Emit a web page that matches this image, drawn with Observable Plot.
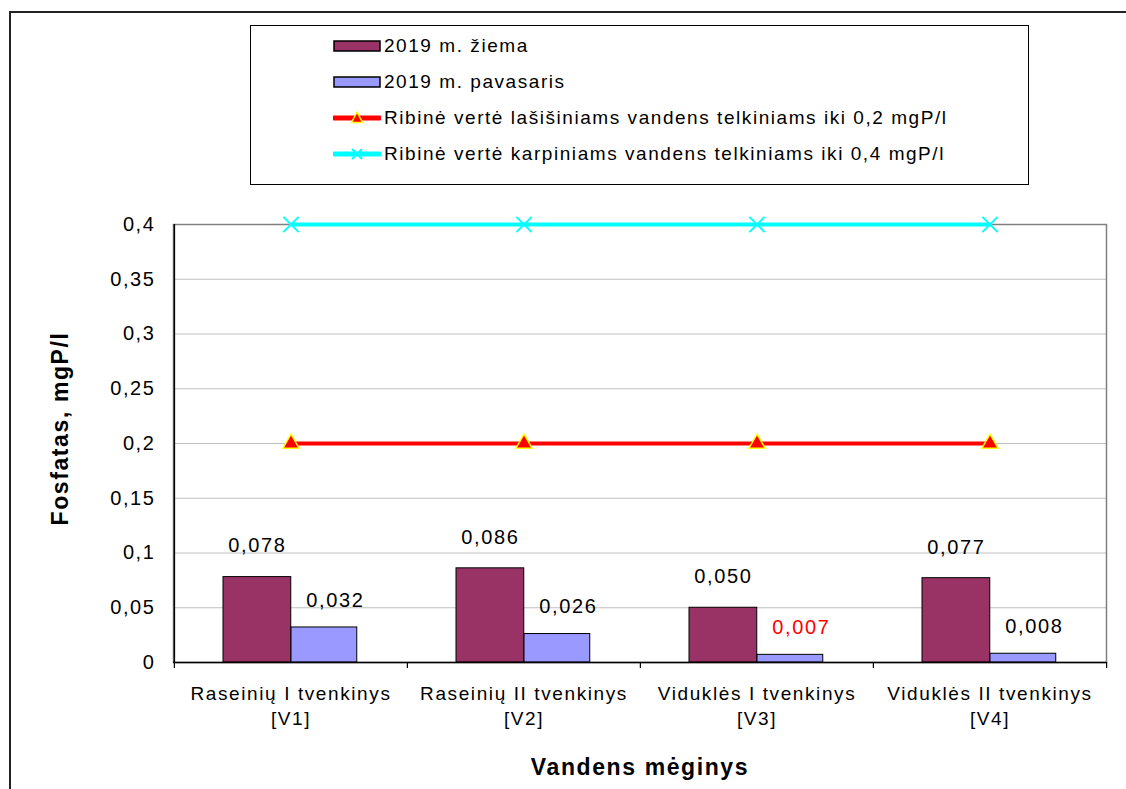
<!DOCTYPE html>
<html>
<head>
<meta charset="utf-8">
<script src="https://cdn.jsdelivr.net/npm/d3@7"></script>
<script src="https://cdn.jsdelivr.net/npm/@observablehq/plot@0.6"></script>
<style>
  html, body { margin: 0; padding: 0; background: #fff; }
  #wrap { position: relative; width: 1126px; height: 789px; overflow: hidden; background: #fff;
          font-family: "Liberation Sans", Arial, sans-serif; }
  #outer { position: absolute; left: 9px; top: 11px; width: 1300px; height: 900px;
           border: 2px solid #222; box-sizing: border-box; pointer-events: none; }
  #chart { position: absolute; left: 0; top: 0; }
  #legend { position: absolute; left: 250px; top: 25px; width: 779px; height: 160px;
            border: 1.5px solid #000; box-sizing: border-box; background: #fff; }
  .item { position: absolute; left: 82px; height: 24px; display: flex; align-items: center;
          font-size: 19px; letter-spacing: 1.55px; color: #000; white-space: nowrap; }
  .item svg { margin-right: 3px; }
</style>
</head>
<body>
<div id="wrap">
  <div id="chart"></div>
  <div id="legend"></div>
  <div id="outer"></div>
</div>
<script>
// ---- data ----
const categories = ["Raseinių I tvenkinys", "Raseinių II tvenkinys", "Viduklės I tvenkinys", "Viduklės II tvenkinys"];
const codes = ["[V1]", "[V2]", "[V3]", "[V4]"];
const winter = [0.078, 0.086, 0.050, 0.077];
const spring = [0.032, 0.026, 0.007, 0.008];
const winterLabels = ["0,078", "0,086", "0,050", "0,077"];
const springLabels = ["0,032", "0,026", "0,007", "0,008"];
const springHighlighted = [false, false, true, false];
const salmonLimit = [0.2, 0.2, 0.2, 0.2];
const carpLimit = [0.4, 0.4, 0.4, 0.4];
const yTicks = [0, 0.05, 0.1, 0.15, 0.2, 0.25, 0.3, 0.35, 0.4];
const yTickLabels = ["0", "0,05", "0,1", "0,15", "0,2", "0,25", "0,3", "0,35", "0,4"];
const seriesNames = [
  "2019 m. žiema",
  "2019 m. pavasaris",
  "Ribinė vertė lašišiniams vandens telkiniams iki 0,2 mgP/l",
  "Ribinė vertė karpiniams vandens telkiniams iki 0,4 mgP/l"
];
const xTitle = "Vandens mėginys";
const yTitle = "Fosfatas, mgP/l";

// ---- layout ----
const W = 1126, H = 789, ML = 173, MR = 20, MT = 224, MB = 127;
const bw = (W - ML - MR) / categories.length;
const colors = { winter: "#993366", spring: "#9999ff", salmon: "#ff0000", carp: "#00ffff" };

const winterData = categories.map((c, i) => ({ c, v: winter[i], t: winterLabels[i] }));
const springData = categories.map((c, i) => ({ c, v: spring[i], t: springLabels[i], h: springHighlighted[i] }));
const salmonData = categories.map((c, i) => ({ c, v: salmonLimit[i] }));
const carpData = categories.map((c, i) => ({ c, v: carpLimit[i] }));
const tickMap = new Map(yTicks.map((d, i) => [d, yTickLabels[i]]));

const chart = Plot.plot({
  width: W, height: H,
  marginLeft: ML, marginRight: MR, marginTop: MT, marginBottom: MB,
  style: { fontFamily: "'Liberation Sans', Arial, sans-serif", fontSize: "20px", letterSpacing: "1.6px", background: "transparent", color: "#000" },
  x: { type: "band", domain: categories, padding: 0, axis: null },
  y: { domain: [0, 0.4], axis: null },
  marks: [
    Plot.ruleY(yTicks.filter(d => d > 0 && d < 0.4), { stroke: "#c0c0c0", strokeWidth: 1 }),
    Plot.frame({ stroke: "#808080", strokeWidth: 1.5 }),
    Plot.barY(winterData, { x: "c", y: "v", fill: colors.winter, stroke: "#000", strokeWidth: 1, insetLeft: 49, insetRight: bw - 117 }),
    Plot.barY(springData, { x: "c", y: "v", fill: colors.spring, stroke: "#000", strokeWidth: 1, insetLeft: 117, insetRight: bw - 183 }),
    // axes lines
    Plot.ruleY([0], { stroke: "#000", strokeWidth: 1.5 }),
    Plot.ruleX([categories[0]], { x: d => d, stroke: "#000", strokeWidth: 1.5, dx: -bw / 2 }),
    Plot.ruleX(categories, { x: d => d, y1: 0, y2: 0, insetBottom: -6, stroke: "#000", strokeWidth: 1.2, dx: -bw / 2 }),
    Plot.ruleX([categories[categories.length - 1]], { x: d => d, y1: 0, y2: 0, insetBottom: -6, stroke: "#000", strokeWidth: 1.2, dx: bw / 2 }),
    Plot.ruleY(yTicks, { y: d => d, x1: categories[0], x2: categories[0], dx: -bw / 2, insetLeft: -6, stroke: "#000", strokeWidth: 1.2 }),
    // y tick labels
    Plot.text(yTicks, { y: d => d, text: d => tickMap.get(d), frameAnchor: "left", textAnchor: "end", dx: -18, fontSize: 20 }),
    // x tick labels
    Plot.text(categories, { x: d => d, y: 0, text: d => `${d}\n${codes[categories.indexOf(d)]}`, lineAnchor: "top", dy: 20, lineHeight: 1.32, fontSize: 19 }),
    // limit lines
    Plot.lineY(salmonData, { x: "c", y: "v", stroke: colors.salmon, strokeWidth: 4 }),
    Plot.dot(salmonData, { x: "c", y: "v", symbol: "triangle", fill: colors.salmon, stroke: "#ffff00", strokeWidth: 1.5, r: 6 }),
    Plot.lineY(carpData, { x: "c", y: "v", stroke: colors.carp, strokeWidth: 4 }),
    Plot.dot(carpData, { x: "c", y: "v", symbol: "times", stroke: colors.carp, strokeWidth: 2, r: 7 }),
    // value labels
    Plot.text(winterData, { x: "c", y: "v", text: "t", dx: -bw / 2 + 83, dy: -31, fontSize: 20, fill: "#000" }),
    Plot.text(springData, { x: "c", y: "v", text: "t", dx: -bw / 2 + 161, dy: -27, fontSize: 20, fill: d => d.h ? "#ff0000" : "#000" }),
    // titles
    Plot.text([xTitle], { frameAnchor: "bottom", dy: 112, fontSize: 23, fontWeight: "bold" }),
    Plot.text([yTitle], { frameAnchor: "left", textAnchor: "middle", dx: -113, dy: -15, rotate: -90, fontSize: 23, fontWeight: "bold" })
  ]
});
document.getElementById("chart").append(chart);

// ---- legend ----
const legend = document.getElementById("legend");
const rowTops = [8, 44, 80, 116];
const swatches = [
  `<svg width="48" height="14"><rect x="1" y="2" width="46" height="10" fill="${colors.winter}" stroke="#000" stroke-width="1.5"/></svg>`,
  `<svg width="48" height="14"><rect x="1" y="2" width="46" height="10" fill="${colors.spring}" stroke="#000" stroke-width="1.5"/></svg>`,
  `<svg width="48" height="16"><line x1="1" y1="8" x2="47" y2="8" stroke="${colors.salmon}" stroke-width="5" stroke-linecap="round"/><path d="M24,2 L29.5,12.5 L18.5,12.5 Z" fill="${colors.salmon}" stroke="#ffff00" stroke-width="1.5"/></svg>`,
  `<svg width="48" height="16"><line x1="1" y1="8" x2="47" y2="8" stroke="${colors.carp}" stroke-width="5" stroke-linecap="round"/><path d="M19,3 L29,13 M29,3 L19,13" stroke="${colors.carp}" stroke-width="2"/></svg>`
];
seriesNames.forEach((name, i) => {
  const d = document.createElement("div");
  d.className = "item";
  d.style.top = rowTops[i] + "px";
  d.innerHTML = swatches[i] + `<span>${name}</span>`;
  legend.append(d);
});
</script>
</body>
</html>
